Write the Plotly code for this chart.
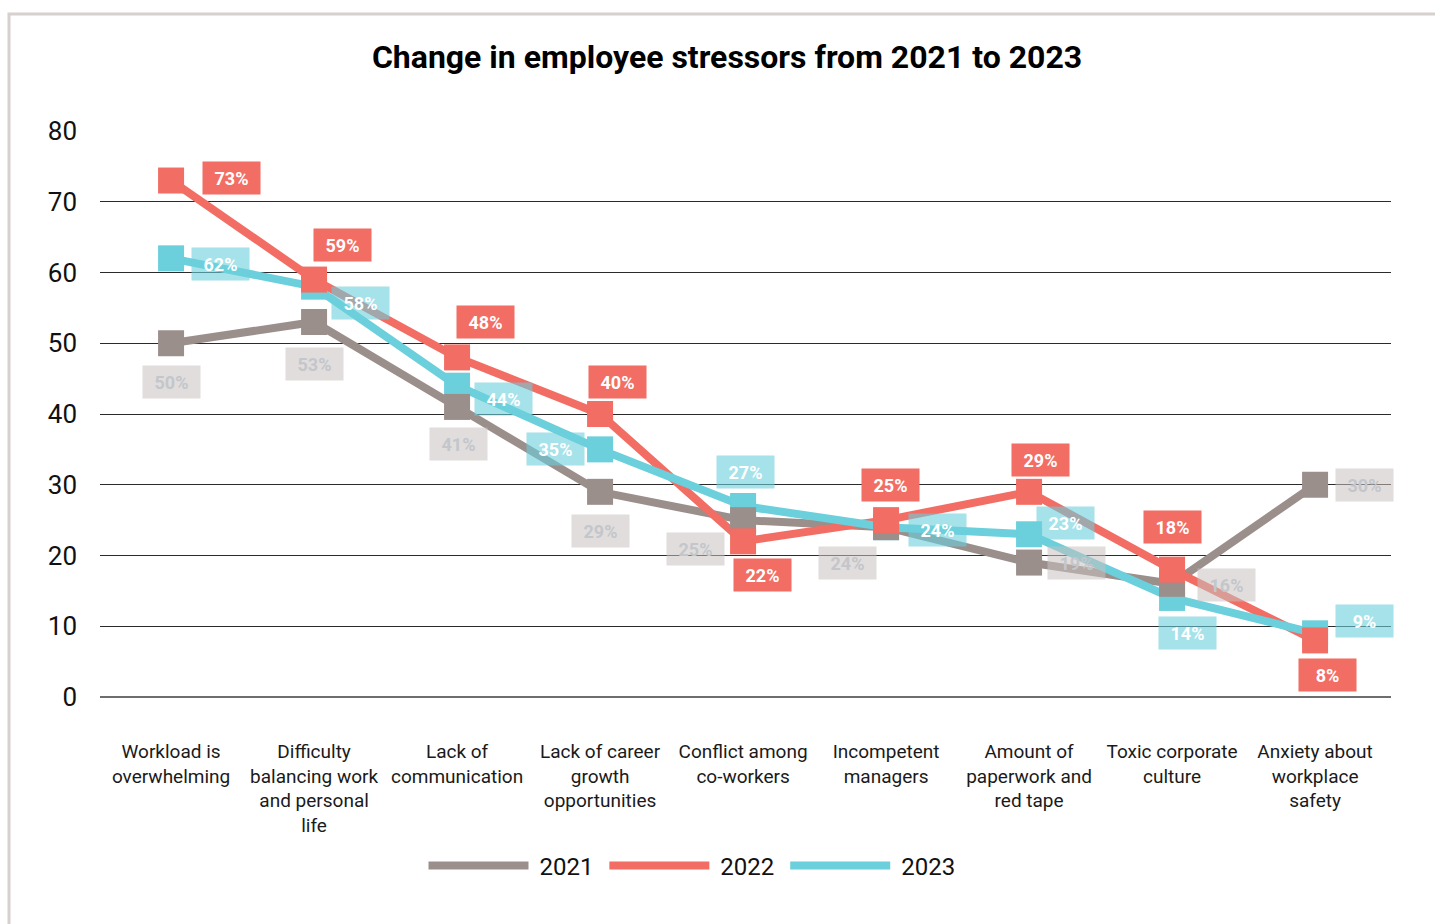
import plotly.graph_objects as go

# Stressor categories (x axis) and share of employees per year (%)
categories = [
    "Workload is<br>overwhelming",
    "Difficulty<br>balancing work<br>and personal<br>life",
    "Lack of<br>communication",
    "Lack of career<br>growth<br>opportunities",
    "Conflict among<br>co-workers",
    "Incompetent<br>managers",
    "Amount of<br>paperwork and<br>red tape",
    "Toxic corporate<br>culture",
    "Anxiety about<br>workplace<br>safety",
]
years = ["2021", "2022", "2023"]
values_2021 = [50, 53, 41, 29, 25, 24, 19, 16, 30]
values_2022 = [73, 59, 48, 40, 22, 25, 29, 18, 8]
values_2023 = [62, 58, 44, 35, 27, 24, 23, 14, 9]
y_ticks = [0, 10, 20, 30, 40, 50, 60, 70, 80]

FONT = "Roboto"

series = {
    "2021": dict(values=values_2021, color="#9b8f8c",
                 box="rgba(200,193,191,0.55)", text="#c3c6cb"),
    "2022": dict(values=values_2022, color="#f26d63",
                 box="#f26d63", text="#ffffff"),
    "2023": dict(values=values_2023, color="#6bcfdc",
                 box="rgba(107,207,220,0.6)", text="#ffffff"),
}

# Pixel offsets of each value badge relative to its point (dx right, dy up)
badge_offsets = {
    "2021": [(0, -39), (0, -42), (1, -37), (0, -39), (-48, -29),
             (-39, -36), (47, 0), (54, -1), (49, 0)],
    "2022": [(60, 3), (28, 35), (28, 35), (17, 32), (19, -34),
             (4, 35), (11, 32), (0, 43), (12, -35)],
    "2023": [(49, -6), (46, -16), (46, -13), (-45, 0), (2, 34),
             (51, -3), (36, 11), (15, -35), (49, 12)],
}

xs = list(range(len(categories)))
fig = go.Figure()

# Lines (these carry the legend entries)
for rank, name in enumerate(years):
    s = series[name]
    fig.add_trace(go.Scatter(
        x=xs, y=s["values"], mode="lines",
        name="\u00a0" + name + "\u00a0",
        line=dict(color=s["color"], width=8),
        legendrank=rank + 1, hoverinfo="skip",
    ))

# Square markers on top of the lines
for name in ["2023", "2021", "2022"]:
    s = series[name]
    fig.add_trace(go.Scatter(
        x=xs, y=s["values"], mode="markers", showlegend=False,
        marker=dict(symbol="square", size=26, color=s["color"],
                    line=dict(width=0)),
        hoverinfo="skip",
    ))

# Value badges
annotations = []
for name in years:
    s = series[name]
    for i, v in enumerate(s["values"]):
        dx, dy = badge_offsets[name][i]
        annotations.append(dict(
            x=i, y=v, xref="x", yref="y", text=f"<b>{v}%</b>",
            showarrow=False, xshift=dx, yshift=dy,
            width=57, height=32, align="center", valign="middle",
            bgcolor=s["box"], borderpad=0,
            font=dict(family=FONT, size=18, color=s["text"]),
        ))

fig.update_layout(
    width=1435, height=924,
    margin=dict(l=100, r=44, t=131, b=227),
    paper_bgcolor="white", plot_bgcolor="white",
    font=dict(family=FONT, color="#111111"),
    title=dict(
        text="<b>Change in employee stressors from 2021 to 2023</b>",
        x=(727 - 100) / 1291, xref="paper", xanchor="center",
        y=1 - 57 / 924, yref="container", yanchor="middle",
        font=dict(family=FONT, size=32, color="#000000"),
    ),
    xaxis=dict(
        tickmode="array", tickvals=xs, ticktext=categories,
        range=[-0.497, 8.531],
        showgrid=False, zeroline=False, showline=False,
        ticks="", ticklabelstandoff=41,
        tickfont=dict(family=FONT, size=19, color="#1a1a1a"),
    ),
    yaxis=dict(
        range=[0, 80], tickmode="array", tickvals=y_ticks,
        showgrid=True, gridcolor="#2b2b2b", gridwidth=1,
        zeroline=True, zerolinecolor="#6e6e6e", zerolinewidth=2,
        showline=False, ticks="", ticklabelstandoff=22,
        tickfont=dict(family=FONT, size=26, color="#111111"),
    ),
    legend=dict(
        orientation="h", x=(695 - 100) / 1291, xanchor="center",
        y=(697 - 866) / 566, yanchor="middle",
        itemwidth=100, font=dict(family=FONT, size=24, color="#111111"),
        bgcolor="rgba(0,0,0,0)",
    ),
    annotations=annotations,
    shapes=[dict(
        type="rect", xref="paper", yref="paper",
        x0=(9 - 100) / 1291, x1=1.2, y0=-0.8, y1=(697 - 14) / 566,
        line=dict(color="#d6d0ce", width=3), fillcolor="rgba(0,0,0,0)",
        layer="below",
    )],
)

fig.write_html("out.html")
